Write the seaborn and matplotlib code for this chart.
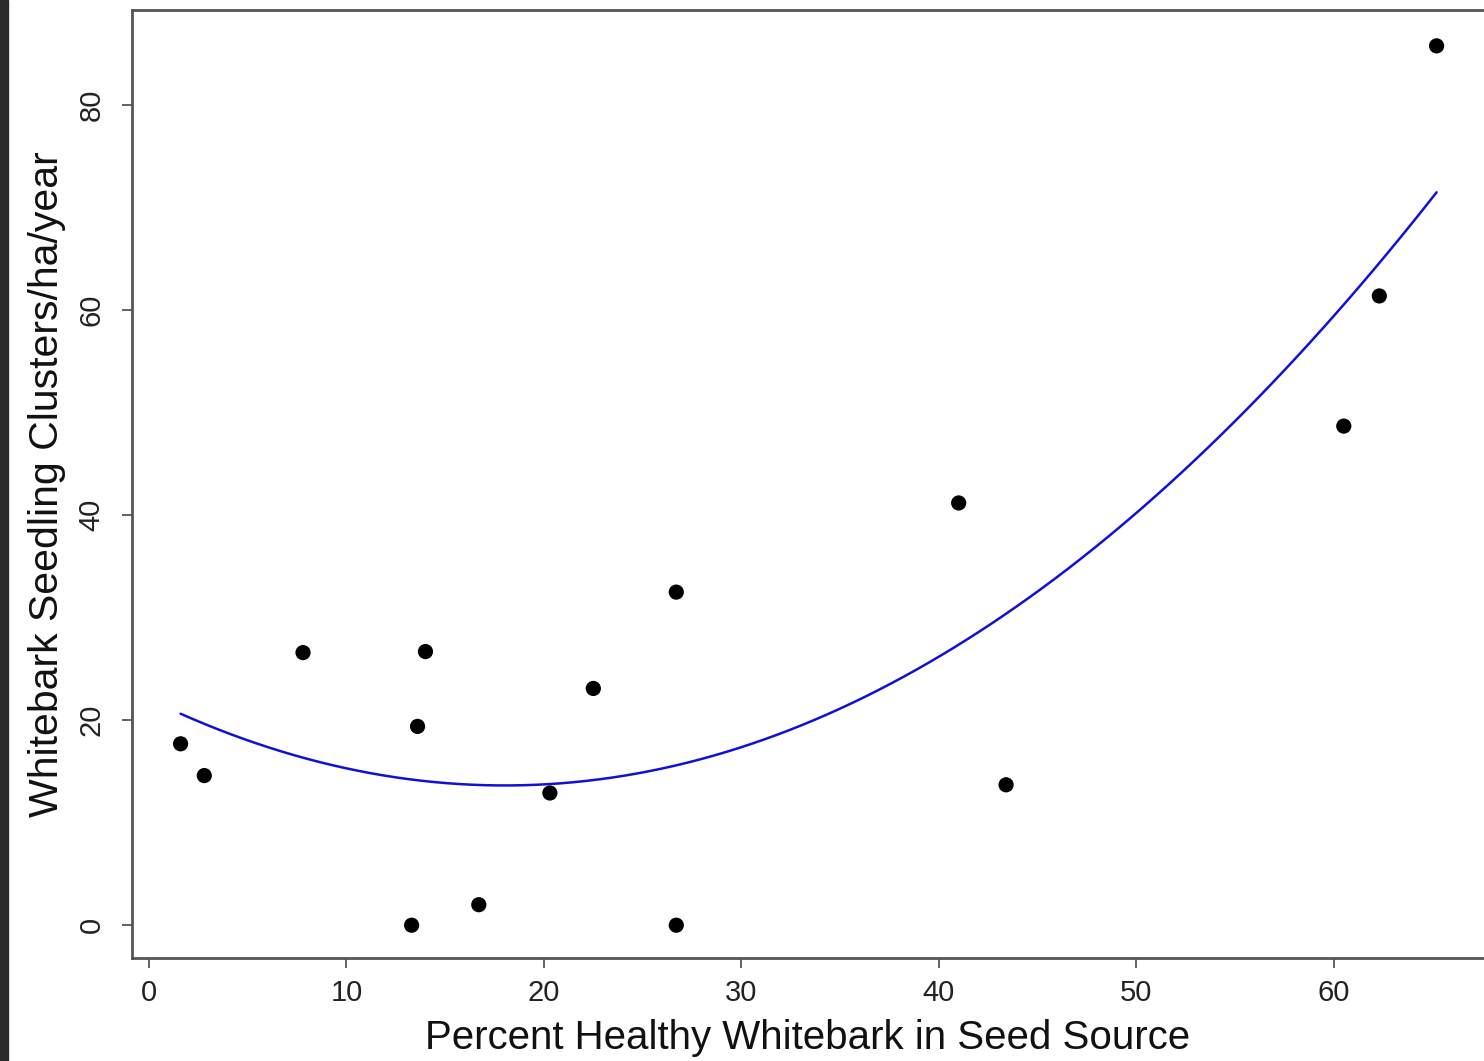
import matplotlib
matplotlib.use("Agg")
import matplotlib.pyplot as plt
import seaborn as sns
import pandas as pd
import numpy as np

# values
pct_healthy = [1.6, 2.8, 7.8, 14.0, 13.6, 13.3, 16.7, 20.3, 22.5, 26.7,
               26.7, 41.0, 43.4, 60.5, 62.3, 65.2]
clusters = [17.7, 14.6, 26.6, 26.7, 19.4, 0.0, 2.0, 12.9, 23.1, 32.5,
            0.0, 41.2, 13.7, 48.7, 61.4, 85.8]
x_ticks = [0, 10, 20, 30, 40, 50, 60]
y_ticks = [0, 20, 40, 60, 80]

df = pd.DataFrame({"pct": pct_healthy, "clusters": clusters})

sns.set_style("white")
plt.rcParams["font.family"] = ["Liberation Sans", "DejaVu Sans"]

fig = plt.figure(figsize=(14.84, 10.61), dpi=100)
ax = fig.add_axes([132 / 1484, 103 / 1061, 1352 / 1484, 948 / 1061])

# dark strip along the left edge of the screenshot
fig.patches.append(plt.Rectangle((0, 0), 8 / 1484, 1, transform=fig.transFigure,
                                 color="#2b2b2b", zorder=0))

# quadratic fit line
sns.regplot(data=df, x="pct", y="clusters", order=2, ci=None, scatter=False,
            truncate=True, color="#1010d8", line_kws={"linewidth": 1.8}, ax=ax)
sns.scatterplot(data=df, x="pct", y="clusters", color="black", s=120,
                edgecolor="none", ax=ax, zorder=3)

ax.set_xlim(-0.86, 67.6)
ax.set_ylim(-3.2, 89.3)
ax.set_xticks(x_ticks)
ax.set_yticks(y_ticks)
ax.set_yticklabels([str(v) for v in y_ticks], rotation=90, va="center")

for side in ["left", "bottom", "top"]:
    ax.spines[side].set_color("#555555")
    ax.spines[side].set_linewidth(2)
ax.spines["right"].set_visible(False)

ax.tick_params(axis="both", which="major", length=7, width=1.3, color="#555555",
               labelsize=21, labelcolor="#222222", direction="out",
               bottom=True, left=True)
ax.tick_params(axis="x", pad=8)
ax.tick_params(axis="y", pad=12)

ax.set_xlabel("Percent Healthy Whitebark in Seed Source", fontsize=29,
              color="#111111", labelpad=9)
ax.set_ylabel("Whitebark Seedling Clusters/ha/year", fontsize=29.5,
              color="#111111", labelpad=8)

fig.savefig("out.png", dpi=100)
plt.close(fig)
